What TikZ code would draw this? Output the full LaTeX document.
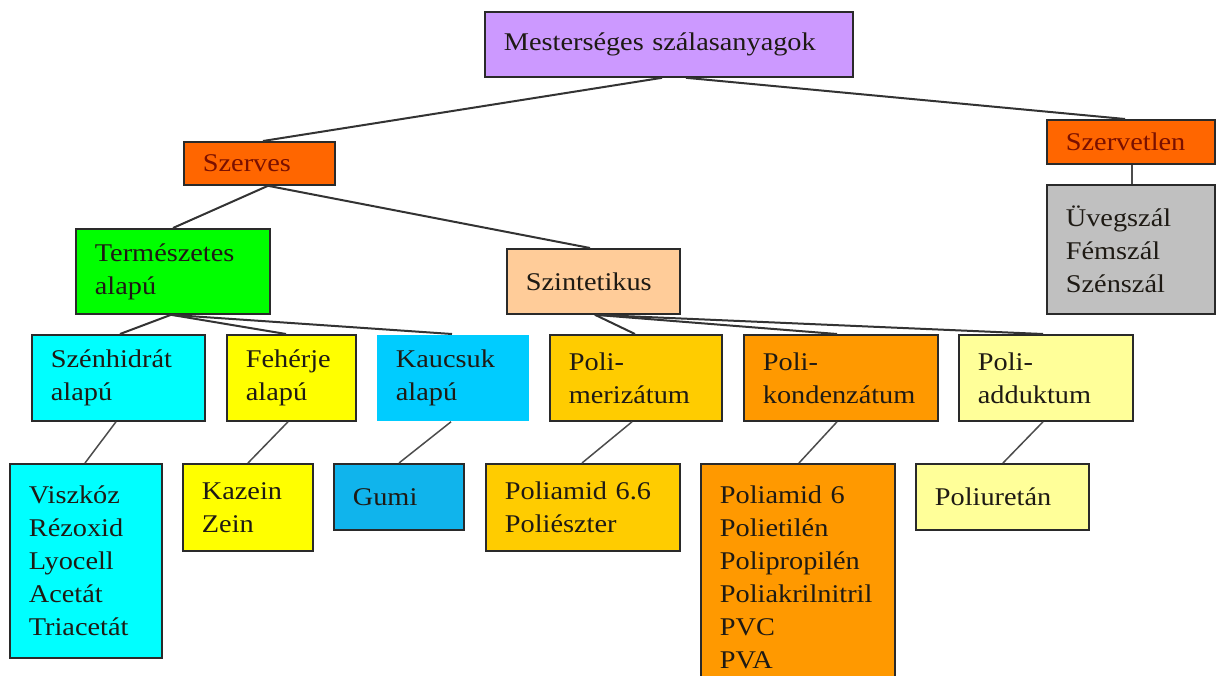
\documentclass[tikz,border=0pt]{standalone}
\usepackage{fontspec}
\setmainfont{Liberation Serif}[FakeStretch=1.11]
\definecolor{cMest}{HTML}{CC99FF}
\definecolor{cOrg}{HTML}{FF6600}
\definecolor{cRedTxt}{HTML}{7A1000}
\definecolor{cGray}{HTML}{C0C0C0}
\definecolor{cGreen}{HTML}{00FF00}
\definecolor{cSzint}{HTML}{FFCC99}
\definecolor{cCyan}{HTML}{00FFFF}
\definecolor{cYellow}{HTML}{FFFF00}
\definecolor{cKauc}{HTML}{00CCFF}
\definecolor{cGumi}{HTML}{10B4EC}
\definecolor{cGold}{HTML}{FFCC00}
\definecolor{cOrange}{HTML}{FF9900}
\definecolor{cPale}{HTML}{FFFF99}
\definecolor{cBorder}{HTML}{2A2A2A}
\definecolor{cTxt}{HTML}{1E1A14}
\tikzset{
  box/.style={draw=cBorder, line width=1.8pt, rectangle, anchor=north west,
    align=left, inner xsep=19pt, inner ysep=0pt,
    font=\fontsize{25.5}{33}\selectfont, text=cTxt},
  link/.style={draw=black!80, line width=2pt},
  thinlink/.style={draw=black!70, line width=1.5pt},
}
\newcommand\mkbox[7]{%
  \pgfmathsetmacro\bw{#4-#2}\pgfmathsetmacro\bh{#5-#3}\pgfmathsetmacro\tw{#4-#2-38}%
  \node[box, #6, minimum width=\bw pt, minimum height=\bh pt, text width=\tw pt] (#1) at (#2,#3) {#7};}
\begin{document}
\begin{tikzpicture}[x=1pt, y=-1pt]
\clip (0,0) rectangle (1216,675);
\fill[white] (0,0) rectangle (1216,675);

% boxes
\mkbox{mest}{484}{11}{852}{76}{fill=cMest}{Mesterséges szálasanyagok}
\mkbox{szerves}{183}{141}{334}{184}{fill=cOrg, text=cRedTxt}{Szerves}
\mkbox{szervetlen}{1046}{119}{1214}{163}{fill=cOrg, text=cRedTxt}{Szervetlen}
\mkbox{gray}{1046}{184}{1214}{313}{fill=cGray}{Üvegszál\\Fémszál\\Szénszál}
\mkbox{term}{75}{228}{269}{313}{fill=cGreen}{Természetes\\alapú}
\mkbox{szint}{506}{248}{679}{313}{fill=cSzint}{Szintetikus}
\mkbox{szenh}{31}{334}{204}{420}{fill=cCyan}{Szénhidrát\\alapú}
\mkbox{feh}{226}{334}{355}{420}{fill=cYellow}{Fehérje\\alapú}
\mkbox{kauc}{376}{334}{528}{420}{fill=cKauc, draw=none}{Kaucsuk\\alapú}
\mkbox{merz}{549}{334}{721}{420}{fill=cGold}{Poli-\\merizátum}
\mkbox{kond}{743}{334}{937}{420}{fill=cOrange}{Poli-\\kondenzátum}
\mkbox{addu}{958}{334}{1132}{420}{fill=cPale}{Poli-\\adduktum}
\mkbox{visz}{9}{463}{161}{657}{fill=cCyan}{Viszkóz\\Rézoxid\\Lyocell\\Acetát\\Triacetát}
\mkbox{kaz}{182}{463}{312}{550}{fill=cYellow}{Kazein\\Zein}
\mkbox{gumi}{333}{463}{463}{529}{fill=cGumi}{Gumi}
\mkbox{pa66}{485}{463}{679}{550}{fill=cGold}{Poliamid 6.6\\Poliészter}
\mkbox{pa6}{700}{463}{894}{690}{fill=cOrange}{Poliamid 6\\Polietilén\\Polipropilén\\Poliakrilnitril\\PVC\\PVA}
\mkbox{pu}{915}{463}{1088}{529}{fill=cPale}{Poliuretán}

% connectors
\draw[link] ([xshift={662-484}]mest.south west) -- ([xshift={263-183}]szerves.north west);
\draw[link] ([xshift={686-484}]mest.south west) -- ([xshift={1125-1046}]szervetlen.north west);
\draw[thinlink] ([xshift={1132-1046}]szervetlen.south west) -- ([xshift={1132-1046}]gray.north west);
\draw[link] ([xshift={268-183}]szerves.south west) -- ([xshift={173-75}]term.north west);
\draw[link] ([xshift={268-183}]szerves.south west) -- ([xshift={590-506}]szint.north west);
\draw[link] ([xshift={171-75}]term.south west) -- ([xshift={120-31}]szenh.north west);
\draw[link] ([xshift={171-75}]term.south west) -- ([xshift={286-226}]feh.north west);
\draw[link] ([xshift={171-75}]term.south west) -- ([xshift={452-376}]kauc.north west);
\draw[link] ([xshift={595-506}]szint.south west) -- ([xshift={635-549}]merz.north west);
\draw[link] ([xshift={595-506}]szint.south west) -- ([xshift={837-743}]kond.north west);
\draw[link] ([xshift={595-506}]szint.south west) -- ([xshift={1043-958}]addu.north west);
\draw[thinlink] ([xshift={116-31}]szenh.south west) -- ([xshift={85-9}]visz.north west);
\draw[thinlink] ([xshift={288-226}]feh.south west) -- ([xshift={248-182}]kaz.north west);
\draw[thinlink] ([xshift={451-376}]kauc.south west) -- ([xshift={399-333}]gumi.north west);
\draw[thinlink] ([xshift={632-549}]merz.south west) -- ([xshift={582-485}]pa66.north west);
\draw[thinlink] ([xshift={837-743}]kond.south west) -- ([xshift={799-700}]pa6.north west);
\draw[thinlink] ([xshift={1043-958}]addu.south west) -- ([xshift={1003-915}]pu.north west);
\end{tikzpicture}
\end{document}
